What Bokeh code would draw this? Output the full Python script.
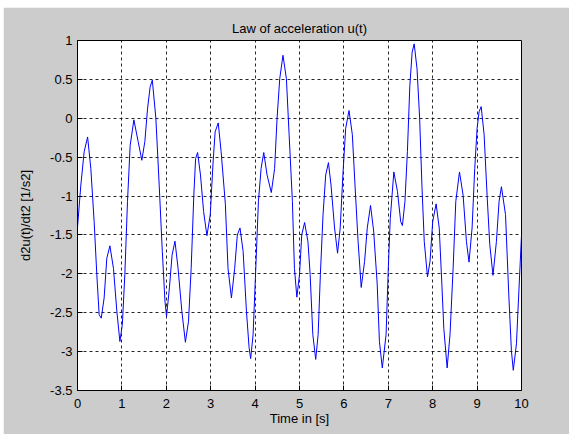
from bokeh.plotting import figure
from bokeh.models import Range1d, FixedTicker, Spacer
from bokeh.layouts import column, row
from bokeh.embed import file_html
from bokeh.resources import INLINE

# ---- data ----
time_s = [0.0, 0.075, 0.15, 0.228, 0.30, 0.375, 0.435, 0.488, 0.535, 0.60, 0.66, 0.73, 0.81, 0.886,
          0.955, 1.01, 1.066, 1.126, 1.186, 1.27, 1.366, 1.449, 1.517, 1.577, 1.635, 1.685, 1.765,
          1.84, 1.91, 1.97, 2.005, 2.07, 2.13, 2.195, 2.265, 2.35, 2.43, 2.50, 2.56, 2.62, 2.66,
          2.705, 2.77, 2.84, 2.915, 2.99, 3.05, 3.10, 3.17, 3.235, 3.33, 3.39, 3.467, 3.54, 3.60,
          3.66, 3.73, 3.805, 3.865, 3.90, 3.955, 4.015, 4.075, 4.135, 4.195, 4.27, 4.365, 4.44,
          4.495, 4.555, 4.628, 4.705, 4.766, 4.84, 4.886, 4.94, 5.0, 5.05, 5.115, 5.19, 5.24, 5.30,
          5.365, 5.42, 5.47, 5.53, 5.59, 5.652, 5.71, 5.79, 5.857, 5.917, 5.977, 6.04, 6.115, 6.19,
          6.25, 6.32, 6.39, 6.466, 6.526, 6.60, 6.67, 6.75, 6.80, 6.865, 6.95, 7.0, 7.044, 7.125,
          7.206, 7.28, 7.318, 7.375, 7.43, 7.485, 7.537, 7.583, 7.647, 7.706, 7.757, 7.81, 7.883,
          7.94, 8.0, 8.077, 8.147, 8.206, 8.25, 8.325, 8.39, 8.46, 8.52, 8.603, 8.685, 8.76, 8.818,
          8.887, 8.947, 9.0, 9.045, 9.092, 9.158, 9.225, 9.285, 9.358, 9.435, 9.495, 9.548, 9.64,
          9.713, 9.773, 9.815, 9.886, 9.938, 10.0]
accel = [-1.40, -0.86, -0.43, -0.24, -0.645, -1.33, -2.01, -2.526, -2.57, -2.31, -1.80, -1.64, -1.93,
         -2.48, -2.87, -2.65, -2.01, -1.07, -0.35, -0.02, -0.30, -0.54, -0.30, 0.12, 0.40, 0.49, 0.0,
         -0.86, -1.71, -2.35, -2.55, -2.18, -1.76, -1.58, -1.93, -2.48, -2.88, -2.61, -1.93, -0.99,
         -0.52, -0.44, -0.73, -1.20, -1.51, -1.24, -0.60, -0.175, -0.06, -0.43, -1.10, -1.93, -2.31,
         -1.93, -1.5, -1.41, -1.71, -2.48, -2.95, -3.09, -2.78, -1.93, -1.07, -0.645, -0.44, -0.73,
         -0.955, -0.645, 0.0, 0.51, 0.81, 0.51, -0.21, -1.07, -1.93, -2.30, -2.01, -1.5, -1.34,
         -1.585, -2.01, -2.78, -3.10, -2.78, -2.01, -1.24, -0.73, -0.57, -0.86, -1.41, -1.735, -1.41,
         -0.73, -0.13, 0.10, -0.21, -0.86, -1.585, -2.175, -1.84, -1.41, -1.12, -1.45, -2.13, -2.87,
         -3.21, -2.78, -1.93, -1.29, -0.69, -0.94, -1.33, -1.38, -1.07, -0.43, 0.42, 0.85, 0.957,
         0.637, 0.0, -0.86, -1.585, -2.04, -1.84, -1.33, -1.10, -1.41, -2.13, -2.70, -3.21, -2.78,
         -1.93, -1.07, -0.69, -0.99, -1.585, -1.85, -1.41, -0.645, -0.13, 0.085, 0.15, -0.21, -0.99,
         -1.62, -2.02, -1.585, -1.07, -0.88, -1.24, -2.26, -2.99, -3.24, -2.90, -2.26, -1.50]

x_ticks = [0, 1, 2, 3, 4, 5, 6, 7, 8, 9, 10]
y_ticks = [1, 0.5, 0, -0.5, -1, -1.5, -2, -2.5, -3, -3.5]
y_tick_labels = ["1", "0.5", "0", "-0.5", "-1", "-1.5", "-2", "-2.5", "-3", "-3.5"]

title_text = "Law of acceleration u(t)"
x_label = "Time in [s]"
y_label = "d2u(t)/dt2 [1/s2]"

FONT = "Liberation Sans"
FS = "13px"
GRAY = "#cccccc"

p = figure(width=566, height=427, output_backend="svg", toolbar_location=None,
           x_range=Range1d(0, 10), y_range=Range1d(-3.5, 1),
           min_border_left=74, min_border_right=48, min_border_top=33, min_border_bottom=44,
           background_fill_color="white", border_fill_color=GRAY)

p.title.text = title_text
p.title.align = "center"
p.title.text_font = FONT
p.title.text_font_size = FS
p.title.text_font_style = "normal"
p.title.text_color = "black"
p.title.standoff = 9

xt = FixedTicker(ticks=x_ticks)
yt = FixedTicker(ticks=y_ticks)

for ax in p.xaxis:
    ax.ticker = xt
for ax in p.yaxis:
    ax.ticker = yt
    ax.major_label_overrides = {t: s for t, s in zip(y_ticks, y_tick_labels)}

p.xaxis.axis_label = x_label
p.yaxis.axis_label = y_label
p.xaxis.major_label_standoff = 8
p.xaxis.axis_label_standoff = 0
p.yaxis.major_label_standoff = 5
p.yaxis.axis_label_standoff = 14

for ax in list(p.xaxis) + list(p.yaxis):
    ax.major_label_text_font = FONT
    ax.major_label_text_font_size = FS
    ax.major_label_text_color = "black"
    ax.axis_label_text_font = FONT
    ax.axis_label_text_font_size = FS
    ax.axis_label_text_font_style = "normal"
    ax.axis_label_text_color = "black"
    ax.major_tick_in = 5
    ax.major_tick_out = 0
    ax.minor_tick_line_color = None
    ax.axis_line_color = "black"
    ax.major_tick_line_color = "black"

p.xgrid.ticker = xt
p.ygrid.ticker = yt
for g in (p.xgrid, p.ygrid):
    g.grid_line_color = "black"
    g.grid_line_alpha = 0.85
    g.grid_line_dash = "3 3"
    g.grid_line_width = 1

p.outline_line_color = "black"
p.outline_line_alpha = 1

p.line(time_s, accel, line_color="#0000ff", line_width=1)

layout = column(Spacer(width=569, height=7),
                row(Spacer(width=3, height=427), p))

open("out.html", "w").write(file_html(layout, INLINE))
